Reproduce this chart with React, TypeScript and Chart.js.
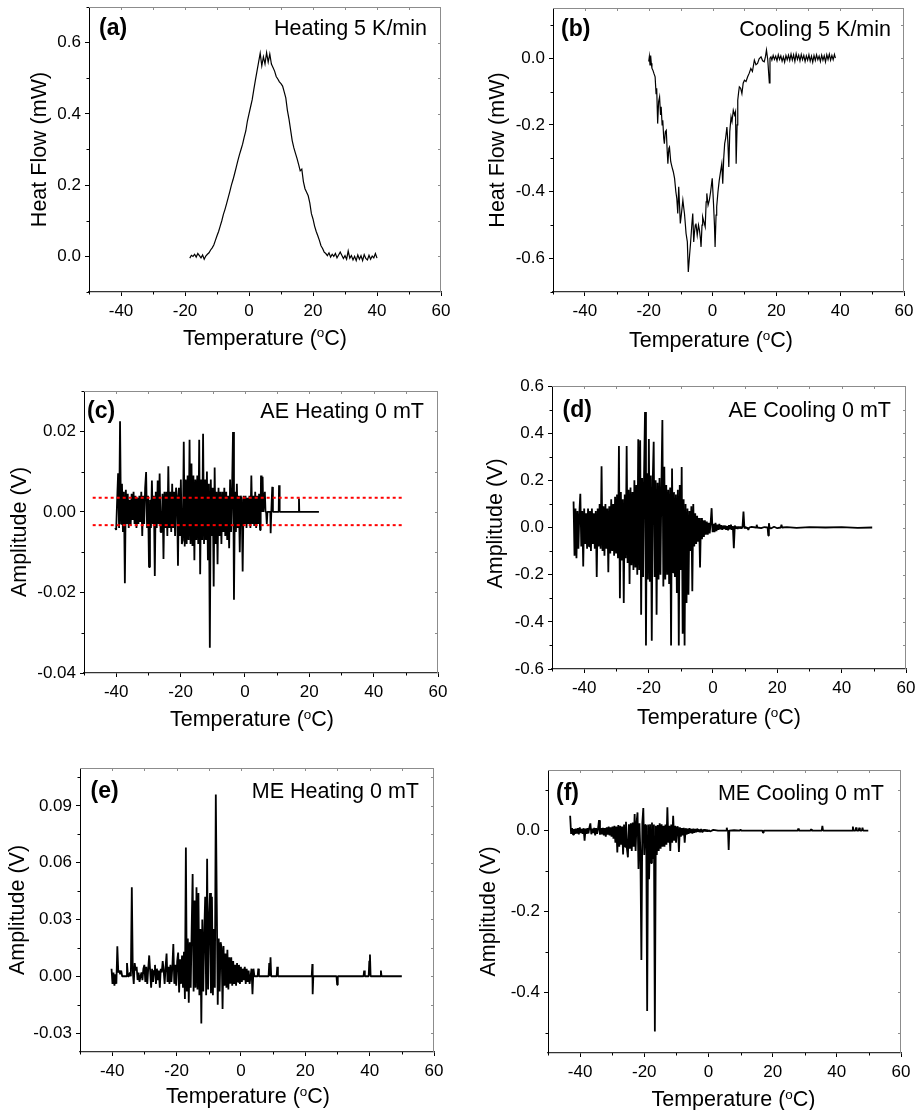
import React, { useEffect, useRef } from "react";
import { Chart, registerables } from "chart.js";
Chart.register(...registerables);

const FONT = '"Liberation Sans", Arial, Helvetica, sans-serif';

// ---------- shared temperature axis ----------
const tempMin = -50;
const tempMax = 60;
const tempMajorTicks = [-40, -20, 0, 20, 40, 60];
const tempMinorTicks = [-50, -30, -10, 10, 30, 50];

// ---------- (a) DSC heating 5 K/min, heat flow (mW), sampled every 0.5 °C ----------
const heatingStartT = -18.5;
const heatingStepT = 0.5;
const heatingFlow = [
  -0.005, 0.003, 0.0, 0.006, -0.002, 0.008, 0.002, -0.004, 0.004, -0.008,
  0.001, 0.006, 0.01, 0.018, 0.024, 0.032, 0.045, 0.058, 0.07, 0.085,
  0.1, 0.118, 0.132, 0.148, 0.165, 0.182, 0.2, 0.215, 0.232, 0.25,
  0.268, 0.285, 0.3, 0.315, 0.335, 0.352, 0.38, 0.4, 0.42, 0.44,
  0.468, 0.495, 0.52, 0.545, 0.57, 0.535, 0.56, 0.54, 0.572, 0.545,
  0.568, 0.54, 0.53, 0.52, 0.505, 0.498, 0.49, 0.485, 0.478, 0.462,
  0.445, 0.41, 0.385, 0.355, 0.325, 0.305, 0.29, 0.275, 0.258, 0.24,
  0.245, 0.21, 0.19, 0.18, 0.17, 0.15, 0.12, 0.105, 0.085, 0.07,
  0.058, 0.045, 0.03, 0.022, 0.012, 0.008, 0.002, 0.01, -0.002, 0.006,
  0.0, 0.008, -0.004, 0.004, 0.012, 0.003, -0.006, 0.002, -0.008, 0.015,
  -0.005, 0.002, -0.01, 0.0, -0.012, 0.004, -0.008, 0.002, -0.012, 0.005,
  -0.006, -0.01, 0.003, -0.008, 0.001, -0.004, 0.008, -0.005,
];

// ---------- (b) DSC cooling 5 K/min, [T °C, heat flow mW] ----------
const coolingCurve: [number, number][] = [
  [-20.0, -0.01], [-19.8, 0.005], [-19.6, -0.02], [-19.4, 0.008], [-19.2, -0.015], [-19.0, -0.03],
  [-18.7, -0.036], [-18.4, -0.045], [-18.0, -0.056], [-17.7, -0.106], [-17.5, -0.09], [-17.2, -0.196],
  [-16.9, -0.13], [-16.6, -0.116], [-16.3, -0.17], [-16.1, -0.146], [-15.8, -0.2], [-15.6, -0.186],
  [-15.3, -0.24], [-15.1, -0.256], [-14.8, -0.22], [-14.5, -0.216], [-14.2, -0.28], [-14.0, -0.316],
  [-13.7, -0.27], [-13.5, -0.266], [-13.1, -0.31], [-12.7, -0.326], [-12.3, -0.34], [-11.9, -0.36],
  [-11.5, -0.4], [-11.2, -0.42], [-10.9, -0.465], [-10.6, -0.385], [-10.3, -0.45], [-10.1, -0.495],
  [-9.8, -0.47], [-9.3, -0.425], [-9.0, -0.45], [-8.8, -0.465], [-8.5, -0.5], [-8.3, -0.525],
  [-7.9, -0.55], [-7.6, -0.64], [-7.2, -0.59], [-6.9, -0.555], [-6.5, -0.5], [-6.2, -0.465],
  [-5.9, -0.55], [-5.7, -0.525], [-5.4, -0.5], [-5.2, -0.495], [-4.8, -0.53], [-4.4, -0.5],
  [-4.1, -0.515], [-3.8, -0.54], [-3.6, -0.565], [-3.3, -0.5], [-3.1, -0.475], [-2.7, -0.49],
  [-2.3, -0.505], [-2.0, -0.43], [-1.8, -0.405], [-1.4, -0.44], [-1.0, -0.425], [-0.6, -0.4],
  [-0.1, -0.36], [0.3, -0.435], [0.6, -0.5], [0.8, -0.565], [1.1, -0.47], [1.3, -0.445],
  [1.7, -0.4], [2.1, -0.366], [2.5, -0.34], [2.9, -0.316], [3.2, -0.376], [3.5, -0.3],
  [3.8, -0.256], [4.1, -0.24], [4.5, -0.206], [4.8, -0.25], [5.1, -0.326], [5.4, -0.22],
  [5.8, -0.176], [6.1, -0.19], [6.5, -0.156], [6.9, -0.17], [7.2, -0.16], [7.4, -0.316],
  [7.7, -0.2], [7.9, -0.126], [8.2, -0.1], [8.4, -0.086], [8.8, -0.09], [9.2, -0.106],
  [9.6, -0.075], [10.0, -0.066], [10.5, -0.07], [11.0, -0.056], [11.5, -0.045], [12.0, -0.031],
  [12.5, -0.04], [13.1, -0.006], [13.6, -0.02], [14.1, -0.016], [14.6, -0.002], [15.2, 0.004],
  [15.7, -0.008], [16.2, -0.011], [16.6, 0.005], [16.9, 0.024], [17.3, -0.005], [17.8, -0.074],
  [18.0, 0.0], [18.3, 0.004], [18.6, -0.006], [19.0, 0.008], [19.4, -0.004], [19.8, 0.006],
  [20.2, -0.008], [20.6, 0.01], [21.0, -0.004], [21.4, 0.007], [21.8, -0.009], [22.2, 0.004],
  [22.6, -0.012], [23.0, 0.008], [23.4, -0.005], [23.8, 0.009], [24.2, -0.007], [24.6, 0.012],
  [25.0, -0.006], [25.4, 0.01], [25.8, -0.01], [26.2, 0.013], [26.6, -0.004], [27.0, 0.009],
  [27.4, -0.008], [27.8, 0.011], [28.2, -0.005], [28.6, 0.008], [29.0, -0.01], [29.4, 0.007],
  [29.8, -0.006], [30.2, 0.01], [30.6, -0.009], [31.0, 0.006], [31.4, -0.012], [31.8, 0.008],
  [32.2, -0.007], [32.6, 0.01], [33.0, -0.005], [33.4, 0.006], [33.8, -0.01], [34.2, 0.009],
  [34.6, -0.006], [35.0, 0.007], [35.4, -0.011], [35.8, 0.01], [36.2, -0.004], [36.6, 0.012],
  [37.0, -0.006], [37.4, 0.008], [37.8, -0.005], [38.2, 0.011], [38.5, 0.0],
];

// ---------- (c) AE heating 0 mT, amplitude in mV, sampled every 0.3 °C ----------
const aeHeatStartT = -40.3;
const aeHeatStepT = 0.3;
const aeHeatMilliVolts = [
  -4, -4.5, 3, 9.6, -4, 22.5, -3, 7, -5, 5,
  -17.7, 5.5, -3, 4.5, -4, 3, -3.5, 4.5, -2, 5,
  -3, 4, -4, 3.5, -3, 4, -2.5, 5, -6, 4,
  -3, 6, 9.9, -4, 4, -13.7, 3, -4, 7.8, -3,
  4, -15.9, 5, -4, 7.8, -3, 9.5, -5, -5, 4.5,
  -11.7, 5, -4, 5, -6, 11.3, -4, 5, -5, 7,
  -4, 5, -6, 6, 4, -13.4, 6, -6, 8, -8,
  -7, 17.4, -8.6, 8, -8, 9, -7, 17.9, -8, 12,
  -8.5, 9, -12, 8, -7, 9, -8, 17.9, -15.5, 8,
  -7, 19.4, -8, 8, -7, 10, -12, 7, -33.7, 8,
  -6, 6, -18.5, 11, -8, 5, -13, 6, -6, 5,
  -8, 5, -5, 6, -6, 5, -7, 4, -9, 8,
  -5, 5, 19.8, -21.8, 5, -5, 7, -4, 4, -10,
  4, 3, -14.8, 4, -3, 4, -4, 3.5, -3, 4,
  -4, 9, -3, 4, -3.5, 5, -4, 4, -3, 4.5, -4.5,
];
const aeHeatTailMilliVolts: [number, number][] = [
  [4.9, 0], [5.0, 9], [5.2, 0], [5.5, 8.7], [5.7, 0], [6.2, 5], [6.4, 0], [6.6, 0], [6.8, -3],
  [7.0, 0], [7.9, 0], [8.0, -5.3], [8.2, 0], [8.4, 0], [8.5, 6.2], [8.7, 0], [10.5, 0],
  [10.6, 6.6], [10.8, 0], [16.7, 0], [16.8, 3.3], [16.9, 0], [23.0, 0],
];
const aeThresholdLevels = [0.0035, -0.0033];
const aeThresholdSpan = [-47.3, 49.2];

// ---------- (d) AE cooling 0 mT, amplitude in V, sampled every 0.3 °C ----------
const aeCoolStartT = -43.3;
const aeCoolStepT = 0.3;
const aeCoolVolts = [
  0.11, -0.12, 0.08, -0.13, 0.07, -0.09, 0.06, 0.143, -0.08, 0.07,
  -0.165, 0.08, -0.07, 0.06, -0.09, 0.08, -0.08, 0.07, -0.1, 0.08,
  -0.07, 0.06, -0.09, 0.07, -0.21, 0.08, -0.08, 0.1, -0.09, 0.26,
  -0.1, 0.09, -0.12, 0.1, -0.09, 0.08, -0.19, 0.09, -0.11, 0.12,
  -0.1, 0.1, -0.12, 0.13, -0.11, 0.14, -0.13, 0.346, -0.3, 0.15,
  -0.14, 0.12, -0.32, 0.14, -0.13, 0.346, -0.15, 0.16, -0.24, 0.17,
  -0.16, 0.15, -0.18, 0.2, -0.17, 0.18, -0.2, 0.374, -0.18, 0.37,
  -0.37, 0.21, -0.21, 0.22, 0.49, -0.5, 0.23, -0.22, 0.375, -0.23,
  0.22, -0.48, 0.2, 0.364, -0.21, 0.2, -0.37, 0.19, -0.22, 0.21,
  -0.2, 0.18, 0.456, -0.25, 0.258, -0.22, 0.18, -0.2, 0.16, -0.24,
  0.17, -0.5, 0.25, -0.19, 0.15, -0.21, 0.14, -0.278, 0.16, -0.5,
  0.18, -0.18, 0.256, -0.45, 0.12, -0.5, 0.1, -0.32, 0.08, -0.285,
  0.07, -0.1, 0.09, -0.27, 0.1, -0.08, 0.06, -0.07, 0.05, -0.06,
  0.04, -0.17, 0.04, -0.05, 0.03, -0.04, 0.03, -0.03, 0.025, -0.03,
  0.02, -0.025, 0.02, 0.082, -0.02, 0.015, -0.02, 0.02, -0.015, 0.012,
  -0.01, 0.015, -0.008, 0.01, -0.01, 0.008, -0.006, 0.008, -0.01, 0.006,
  -0.012, 0.01, -0.008, 0.012, -0.01, 0.006, -0.088, 0.008, -0.005, 0.004,
  -0.006, 0.004, -0.004, 0.003, -0.004, 0.003, 0.068, -0.004, 0.003, -0.003,
];
const aeCoolTailVolts: [number, number][] = [
  [10.7, 0], [11.0, -0.01], [11.3, 0], [12.0, 0.003], [13.4, 0], [13.6, 0.012], [13.8, 0],
  [15.0, -0.003], [16.0, 0.002], [17.0, 0], [17.2, -0.034], [17.4, 0.018], [17.6, 0],
  [18.0, -0.004], [19.0, 0.003], [20.0, -0.003], [21.1, 0], [21.3, 0.012], [21.5, 0],
  [23.0, 0.002], [26.0, -0.002], [30.0, 0.002], [35.0, 0], [40.0, 0.002], [45.0, -0.002], [49.5, 0],
];

// ---------- (e) ME heating 0 mT, amplitude in V, sampled every 0.3 °C ----------
const meHeatStartT = -40.2;
const meHeatStepT = 0.3;
const meHeatVolts = [
  0.004, -0.004, 0.002, -0.005, 0.001, -0.004, 0.0159, 0.002, 0.003, 0.001,
  0.003, 0, 0, 0, 0, 0, 0.007, 0, 0, 0.002,
  0, 0.047, 0.003, -0.004, 0.007, 0.003, 0.005, -0.002, 0.002, -0.003,
  0, 0.002, -0.002, 0.004, 0.006, -0.003, 0.005, -0.004, 0.004, 0.011,
  0.003, -0.006, 0.004, -0.003, 0.003, 0.006, -0.004, 0.004, -0.002, 0.003,
  -0.006, 0.004, 0.002, 0.008, 0.003, -0.004, 0.005, 0.012, -0.003, 0.005,
  -0.004, 0.006, -0.003, 0.005, 0.017, -0.004, 0.006, -0.005, 0.008, 0.0125,
  -0.0085, 0.009, -0.004, 0.011, -0.006, 0.013, -0.012, 0.068, -0.008, 0.02,
  -0.014, 0.018, -0.006, 0.025, 0.054, -0.008, 0.04, -0.006, 0.047, -0.007,
  0.044, -0.01, 0.025, -0.025, 0.03, -0.008, 0.022, 0.042, -0.01, 0.062,
  -0.007, 0.03, 0.044, -0.009, 0.042, -0.01, 0.025, -0.006, 0.096, 0.038,
  -0.015, 0.02, -0.008, 0.018, 0.015, -0.0173, 0.016, -0.005, 0.012, -0.006,
  0.014, -0.007, 0.01, -0.004, 0.01, -0.005, 0.008, -0.004, 0.006, -0.005,
  0.007, -0.003, 0.006, -0.004, 0.005, -0.003, 0.004, -0.002, 0.005, -0.004,
  0.004, -0.003, 0.003, -0.004, 0, 0.004, -0.0095, 0.004, 0,
];
const meHeatTailVolts: [number, number][] = [
  [4.5, 0], [5.2, 0], [5.4, 0.004], [5.6, 0], [8.6, 0], [8.8, 0.007], [9.0, 0], [9.2, 0.01],
  [9.4, 0], [11.1, 0], [11.3, 0.005], [11.5, 0], [22.0, 0], [22.2, 0.0065], [22.3, -0.0095],
  [22.5, 0], [29.7, 0], [29.9, -0.0045], [30.1, 0], [38.1, 0], [38.3, 0.003], [38.5, 0],
  [39.7, 0], [39.9, 0.008], [40.1, 0.0115], [40.3, 0], [43.3, 0], [43.5, 0.003], [43.7, 0], [50.0, 0],
];

// ---------- (f) ME cooling 0 mT, amplitude in V, sampled every 0.3 °C ----------
const meCoolStartT = -43.1;
const meCoolStepT = 0.3;
const meCoolVolts = [
  0.037, -0.008, 0.006, -0.01, 0.004, -0.008, 0.005, -0.007, 0.006, -0.009,
  0.008, -0.006, 0.004, -0.008, 0.006, -0.025, 0.005, -0.008, 0.006, -0.007,
  0.008, 0.018, -0.009, 0.005, -0.006, 0.007, -0.012, 0.006, -0.008, 0.005,
  0.026, -0.01, 0.006, -0.009, 0.007, -0.012, 0.006, -0.015, 0.008, -0.01,
  0.01, -0.012, 0.008, -0.015, 0.01, -0.02, 0.012, -0.03, 0.01, -0.054,
  0.014, -0.04, 0.012, -0.035, 0.01, -0.059, 0.015, -0.04, 0.022, -0.045,
  -0.066, 0.016, -0.045, 0.018, -0.05, 0.02, -0.04, 0.041, -0.05, 0.02,
  0.045, -0.095, 0.018, -0.055, -0.32, 0.02, 0.056, -0.06, 0.015, 0.012,
  -0.446, 0.015, -0.12, 0.016, -0.08, 0.02, -0.07, 0.015, -0.497, 0.012,
  -0.06, 0.014, -0.05, 0.018, -0.045, 0.016, -0.04, 0.012, -0.04, 0.015,
  -0.035, 0.058, -0.03, 0.012, -0.05, 0.015, -0.03, 0.037, -0.025, 0.012,
  -0.03, 0.01, 0.008, -0.053, 0.008, -0.015, 0.006, -0.012, 0.007, -0.03,
  0.006, -0.01, 0.005, -0.008, 0.006, -0.006, 0.004, -0.007, 0.005, -0.005,
  0.004, -0.004, 0.005, -0.003, 0.003, -0.004, 0.004, -0.003, 0.003, -0.002,
  0.003, -0.002, 0.002, -0.002, 0.001,
];
const meCoolTailVolts: [number, number][] = [
  [0.5, -0.002], [1.5, 0.002], [3.0, 0], [5.5, 0], [5.7, 0.007], [5.9, 0], [6.1, 0], [6.3, -0.048],
  [6.5, 0], [8.0, 0.001], [9.8, 0], [10.0, 0.003], [10.2, 0], [14.0, 0], [16.8, 0], [17.0, -0.005],
  [17.2, 0], [22.0, 0], [27.8, 0], [28.0, 0.005], [28.2, 0], [31.8, 0], [32.0, 0.004], [32.2, 0],
  [35.3, 0], [35.5, 0.012], [35.7, 0], [40.0, 0], [44.8, 0], [45.0, 0.01], [45.2, 0], [45.8, 0],
  [46.0, 0.008], [46.2, 0], [46.8, 0], [47.0, 0.007], [47.2, 0], [47.8, 0], [48.0, 0.007], [48.2, 0],
  [49.8, 0],
];

// ---------- helpers ----------
type Pt = { x: number; y: number };
const gridSeries = (start: number, step: number, values: number[], scale = 1): Pt[] =>
  values.map((v, i) => ({ x: Math.round((start + i * step) * 100) / 100, y: v * scale }));
const pairSeries = (pairs: [number, number][], scale = 1): Pt[] =>
  pairs.map(([x, y]) => ({ x, y: y * scale }));

const blackLine = (data: Pt[]) => ({
  data,
  borderColor: "#000",
  borderWidth: 1.2,
  pointRadius: 0,
  tension: 0,
  fill: false,
  order: 2,
});

// emission signal traces: dense bursts, drawn a bit heavier so the burst body renders solid
const signalTrace = (data: Pt[]) => ({
  data,
  borderColor: "#000",
  borderWidth: 1.8,
  borderJoinStyle: "bevel",
  pointRadius: 0,
  tension: 0,
  fill: false,
  order: 2,
});

const thresholdLine = (level: number) => ({
  data: aeThresholdSpan.map((x) => ({ x, y: level })),
  borderColor: "#ff0000",
  borderWidth: 2,
  borderDash: [3, 3],
  pointRadius: 0,
  fill: false,
  order: 1,
});

type PanelCfg = {
  key: string;
  plot: [number, number, number, number];
  yMin: number;
  yMax: number;
  yMajor: number[];
  yMinor: number[];
  dec: number;
  yTitle: string;
  yTitleGap: number;
  yTitleShift: number;
  xTitleShift: number;
  xTitleGap: number;
  tag: string;
  tagDx: number;
  note: string;
  noteDx: number;
  textDy: number;
  datasets: () => any[];
};

const PANELS: PanelCfg[] = [
  {
    key: "a", plot: [89, 7, 441, 292], yMin: -0.1, yMax: 0.7,
    yMajor: [0, 0.2, 0.4, 0.6], yMinor: [-0.1, 0.1, 0.3, 0.5, 0.7], dec: 1,
    yTitle: "Heat Flow (mW)", yTitleGap: 43, yTitleShift: 0, xTitleShift: 0, xTitleGap: 52.5,
    tag: "(a)", tagDx: 10, note: "Heating 5 K/min", noteDx: 14, textDy: 28,
    datasets: () => [blackLine(gridSeries(heatingStartT, heatingStepT, heatingFlow))],
  },
  {
    key: "b", plot: [553, 8, 904, 292], yMin: -0.7, yMax: 0.15,
    yMajor: [-0.6, -0.4, -0.2, 0], yMinor: [-0.7, -0.5, -0.3, -0.1, 0.1], dec: 1,
    yTitle: "Heat Flow (mW)", yTitleGap: 49.5, yTitleShift: 0, xTitleShift: -17.5, xTitleGap: 55,
    tag: "(b)", tagDx: 8, note: "Cooling 5 K/min", noteDx: 13, textDy: 28,
    datasets: () => [blackLine(pairSeries(coolingCurve))],
  },
  {
    key: "c", plot: [84, 391, 438, 673], yMin: -0.04, yMax: 0.03,
    yMajor: [-0.04, -0.02, 0, 0.02], yMinor: [-0.03, -0.01, 0.01, 0.03], dec: 2,
    yTitle: "Amplitude (V)", yTitleGap: 58, yTitleShift: 0, xTitleShift: -9, xTitleGap: 53,
    tag: "(c)", tagDx: 3, note: "AE Heating 0 mT", noteDx: 14, textDy: 27,
    datasets: () => [
      thresholdLine(aeThresholdLevels[0]),
      thresholdLine(aeThresholdLevels[1]),
      signalTrace([
        ...gridSeries(aeHeatStartT, aeHeatStepT, aeHeatMilliVolts, 0.001),
        ...pairSeries(aeHeatTailMilliVolts, 0.001),
      ]),
    ],
  },
  {
    key: "d", plot: [552, 386, 906, 669], yMin: -0.6, yMax: 0.6,
    yMajor: [-0.6, -0.4, -0.2, 0, 0.2, 0.4, 0.6], yMinor: [-0.5, -0.3, -0.1, 0.1, 0.3, 0.5], dec: 1,
    yTitle: "Amplitude (V)", yTitleGap: 50, yTitleShift: -4, xTitleShift: -10, xTitleGap: 55,
    tag: "(d)", tagDx: 10.5, note: "AE Cooling 0 mT", noteDx: 15, textDy: 31,
    datasets: () => [
      signalTrace([...gridSeries(aeCoolStartT, aeCoolStepT, aeCoolVolts), ...pairSeries(aeCoolTailVolts)]),
    ],
  },
  {
    key: "e", plot: [80, 768, 434, 1052], yMin: -0.04, yMax: 0.11,
    yMajor: [-0.03, 0, 0.03, 0.06, 0.09], yMinor: [-0.015, 0.015, 0.045, 0.075, 0.105], dec: 2,
    yTitle: "Amplitude (V)", yTitleGap: 56, yTitleShift: 0, xTitleShift: -9, xTitleGap: 51,
    tag: "(e)", tagDx: 10.5, note: "ME Heating 0 mT", noteDx: 15, textDy: 30,
    datasets: () => [
      signalTrace([...gridSeries(meHeatStartT, meHeatStepT, meHeatVolts), ...pairSeries(meHeatTailVolts)]),
    ],
  },
  {
    key: "f", plot: [548, 770, 901, 1053], yMin: -0.55, yMax: 0.15,
    yMajor: [-0.4, -0.2, 0], yMinor: [-0.5, -0.3, -0.1, 0.1], dec: 1,
    yTitle: "Amplitude (V)", yTitleGap: 53.5, yTitleShift: 0, xTitleShift: 9, xTitleGap: 53,
    tag: "(f)", tagDx: 8, note: "ME Cooling 0 mT", noteDx: 17, textDy: 30,
    datasets: () => [
      signalTrace([...gridSeries(meCoolStartT, meCoolStepT, meCoolVolts), ...pairSeries(meCoolTailVolts)]),
    ],
  },
];

const PAD_L = 95;
const PAD_T = 10;
const PAD_R = 20;
const PAD_B = 75;
const TICK_FONT = 17;
const TITLE_FONT = 21.5;

function decorPlugin(cfg: PanelCfg) {
  return {
    id: "decor_" + cfg.key,
    afterDraw(chart: any) {
      const ctx: CanvasRenderingContext2D = chart.ctx;
      const a = chart.chartArea;
      const xs = chart.scales.x;
      const ys = chart.scales.y;
      ctx.save();
      // top & right frame (grey)
      ctx.strokeStyle = "#8c8c8c";
      ctx.lineWidth = 1;
      ctx.beginPath();
      ctx.moveTo(a.left, a.top + 0.5);
      ctx.lineTo(a.right, a.top + 0.5);
      ctx.moveTo(a.right - 0.5, a.top);
      ctx.lineTo(a.right - 0.5, a.bottom);
      // inward mirror ticks
      for (const v of [...tempMajorTicks, ...tempMinorTicks]) {
        const px = Math.round(xs.getPixelForValue(v)) + 0.5;
        if (px < a.left + 1 || px > a.right - 1) continue;
        ctx.moveTo(px, a.top);
        ctx.lineTo(px, a.top + 3);
      }
      for (const v of [...cfg.yMajor, ...cfg.yMinor]) {
        const py = Math.round(ys.getPixelForValue(v)) + 0.5;
        if (py < a.top + 1 || py > a.bottom - 1) continue;
        ctx.moveTo(a.right, py);
        ctx.lineTo(a.right - 3, py);
      }
      ctx.stroke();
      // outward minor ticks on bottom/left
      ctx.strokeStyle = "#000";
      ctx.beginPath();
      for (const v of tempMinorTicks) {
        const px = Math.round(xs.getPixelForValue(v)) + 0.5;
        ctx.moveTo(px, a.bottom);
        ctx.lineTo(px, a.bottom + 2.5);
      }
      for (const v of cfg.yMinor) {
        const py = Math.round(ys.getPixelForValue(v)) + 0.5;
        ctx.moveTo(a.left, py);
        ctx.lineTo(a.left - 2.5, py);
      }
      ctx.stroke();

      // panel tag and note
      ctx.fillStyle = "#000";
      ctx.textBaseline = "alphabetic";
      ctx.font = `bold 23px ${FONT}`;
      ctx.textAlign = "left";
      ctx.fillText(cfg.tag, a.left + cfg.tagDx, a.top + cfg.textDy);
      ctx.font = `${TITLE_FONT}px ${FONT}`;
      ctx.textAlign = "right";
      ctx.fillText(cfg.note, a.right - cfg.noteDx, a.top + cfg.textDy);

      // x title with superscript o
      const main1 = "Temperature (";
      const sup = "o";
      const main2 = "C)";
      ctx.textAlign = "left";
      ctx.font = `${TITLE_FONT}px ${FONT}`;
      const w1 = ctx.measureText(main1).width;
      const w3 = ctx.measureText(main2).width;
      ctx.font = `13.5px ${FONT}`;
      const w2 = ctx.measureText(sup).width;
      const total = w1 + w2 + w3;
      const cx = (a.left + a.right) / 2 + cfg.xTitleShift;
      const by = a.bottom + cfg.xTitleGap;
      const x0 = cx - total / 2;
      ctx.font = `${TITLE_FONT}px ${FONT}`;
      ctx.fillText(main1, x0, by);
      ctx.font = `13.5px ${FONT}`;
      ctx.fillText(sup, x0 + w1, by - 7.5);
      ctx.font = `${TITLE_FONT}px ${FONT}`;
      ctx.fillText(main2, x0 + w1 + w2, by);

      // y title rotated
      ctx.save();
      ctx.translate(a.left - cfg.yTitleGap, (a.top + a.bottom) / 2 + cfg.yTitleShift);
      ctx.rotate(-Math.PI / 2);
      ctx.textAlign = "center";
      ctx.font = `${TITLE_FONT}px ${FONT}`;
      ctx.fillText(cfg.yTitle, 0, 0);
      ctx.restore();

      ctx.restore();
    },
  };
}

function Panel({ cfg }: { cfg: PanelCfg }) {
  const ref = useRef<HTMLCanvasElement | null>(null);
  const [L, T, R, B] = cfg.plot;
  const w = PAD_L + (R - L) + PAD_R;
  const h = PAD_T + (B - T) + PAD_B;

  useEffect(() => {
    if (!ref.current) return;
    const tickFont = { family: FONT, size: TICK_FONT };
    const chart = new Chart(ref.current, {
      type: "line",
      data: { datasets: cfg.datasets() },
      options: {
        responsive: false,
        animation: false,
        events: [],
        layout: { padding: { left: 0, top: PAD_T, right: PAD_R, bottom: 0 } },
        plugins: { legend: { display: false }, tooltip: { enabled: false } },
        scales: {
          x: {
            type: "linear",
            min: tempMin,
            max: tempMax,
            afterBuildTicks: (s: any) => {
              s.ticks = tempMajorTicks.map((v) => ({ value: v }));
            },
            afterFit: (s: any) => {
              s.height = PAD_B;
              s.paddingLeft = 0;
              s.paddingRight = 0;
            },
            ticks: {
              font: tickFont,
              color: "#000",
              padding: 5,
              autoSkip: false,
              maxRotation: 0,
              callback: (v: any) => String(v),
            },
            grid: { display: true, drawOnChartArea: false, drawTicks: true, tickLength: 4, color: "#000", lineWidth: 1 },
            border: { display: true, color: "#333", width: 1.3 },
          },
          y: {
            type: "linear",
            min: cfg.yMin,
            max: cfg.yMax,
            afterBuildTicks: (s: any) => {
              s.ticks = cfg.yMajor.map((v) => ({ value: v }));
            },
            afterFit: (s: any) => {
              s.width = PAD_L;
              s.paddingTop = 0;
              s.paddingBottom = 0;
            },
            ticks: {
              font: tickFont,
              color: "#000",
              padding: 4,
              autoSkip: false,
              callback: (v: any) => Number(v).toFixed(cfg.dec),
            },
            grid: { display: true, drawOnChartArea: false, drawTicks: true, tickLength: 4, color: "#000", lineWidth: 1 },
            border: { display: true, color: "#000", width: 1 },
          },
        },
      } as any,
      plugins: [decorPlugin(cfg)],
    });
    return () => chart.destroy();
  }, []);

  return (
    <canvas
      ref={ref}
      width={w}
      height={h}
      style={{ position: "absolute", left: L - PAD_L, top: T - PAD_T, width: w, height: h }}
    />
  );
}

export default function App() {
  return (
    <div style={{ position: "absolute", left: 0, top: 0, width: 916, height: 1110, background: "#fff", overflow: "hidden" }}>
      {PANELS.map((p) => (
        <Panel key={p.key} cfg={p} />
      ))}
    </div>
  );
}
